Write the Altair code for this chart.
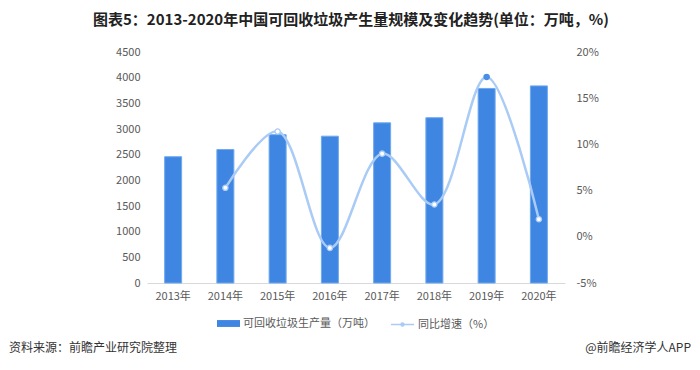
import altair as alt
import pandas as pd

years = ["2013年", "2014年", "2015年", "2016年", "2017年", "2018年", "2019年", "2020年"]
volume = [2460, 2600, 2890, 2860, 3120, 3220, 3790, 3840]
growth = [None, 5.3, 11.4, -1.2, 9.0, 3.5, 17.3, 1.9]
highlight = [False, False, False, False, False, False, True, False]

bar_name = "可回收垃圾生产量（万吨）"
line_name = "同比增速（%）"
title_text = "图表5：2013-2020年中国可回收垃圾产生量规模及变化趋势(单位：万吨，%)"
source_text = "资料来源：前瞻产业研究院整理"
brand_text = "@前瞻经济学人APP"

df = pd.DataFrame({"year": years, "volume": volume, "growth": growth, "hl": highlight})
df["s1"] = bar_name
df["s2"] = line_name

FONT = "Noto Sans CJK SC"
LABEL = "#595959"
BAR = "#3f86e2"
LINE = "#a9cbf5"

W, H = 418, 231

x = alt.X(
    "year:N", sort=years,
    scale=alt.Scale(paddingInner=0, paddingOuter=0),
    axis=alt.Axis(title=None, labelAngle=0, domainColor="#d9d9d9", domainWidth=1,
                  ticks=False, grid=False, labelPadding=7, labelFontSize=11,
                  labelColor=LABEL, labelFont=FONT),
)

bars = alt.Chart(df).mark_bar(size=17, stroke="#6fa9ef", strokeWidth=1).encode(
    x=x,
    y=alt.Y("volume:Q", scale=alt.Scale(domain=[0, 4500], nice=False),
            axis=alt.Axis(values=list(range(0, 4501, 500)), format="d", title=None, domain=False,
                          ticks=False, grid=False, labelPadding=7, labelFontSize=11,
                          labelColor=LABEL, labelFont=FONT)),
    color=alt.Color("s1:N", scale=alt.Scale(domain=[bar_name], range=[BAR]),
                    legend=alt.Legend(title=None, orient="none", legendX=70, legendY=260,
                                      symbolType="M-1,-0.3H1V0.3H-1Z", symbolSize=529,
                                      symbolStrokeWidth=0, labelFont=FONT, labelFontSize=11,
                                      labelColor=LABEL, labelOffset=3, padding=0)),
)

yr = alt.Y("growth:Q", scale=alt.Scale(domain=[-5, 20], nice=False),
           axis=alt.Axis(orient="right", values=[-5, 0, 5, 10, 15, 20],
                         labelExpr="datum.value + '%'", title=None, domain=False,
                         ticks=False, grid=False, labelPadding=11, labelFontSize=11,
                         labelColor=LABEL, labelFont=FONT))

base = alt.Chart(df).transform_filter("isValid(datum.growth)")
line = base.mark_line(interpolate="catmull-rom", strokeWidth=2.5).encode(
    x=x, y=yr,
    stroke=alt.Stroke("s2:N", scale=alt.Scale(domain=[line_name], range=[LINE]),
                      legend=alt.Legend(title=None, orient="none", legendX=243, legendY=260,
                                        symbolType="M-1,0H1M0.13,0A0.13,0.13,0,1,1,-0.13,0A0.13,0.13,0,1,1,0.13,0",
                                        symbolSize=529, symbolStrokeWidth=1.5,
                                        symbolFillColor="#4a8ee6",
                                        labelFont=FONT, labelFontSize=11,
                                        labelColor=LABEL, labelOffset=3, padding=0)),
)
points = base.mark_point(filled=True, shape="circle", size=28, strokeWidth=1.3, opacity=1).encode(
    x=x, y=yr,
    fill=alt.condition("datum.hl", alt.value("#4a8ee6"), alt.value("white")),
    stroke=alt.condition("datum.hl", alt.value("#4a8ee6"), alt.value(LINE)),
)

txt = pd.DataFrame({"t": [title_text]})
title = alt.Chart(txt).mark_text(font=FONT, fontSize=15, fontWeight="bold", color="#222222",
                                 align="center", baseline="middle").encode(
    text="t:N", x=alt.value(204), y=alt.value(-32))

src = alt.Chart(pd.DataFrame({"t": [source_text]})).mark_text(
    font=FONT, fontSize=12, color="#333333", align="left", baseline="middle").encode(
    text="t:N", x=alt.value(-138), y=alt.value(296))
brand = alt.Chart(pd.DataFrame({"t": [brand_text]})).mark_text(
    font=FONT, fontSize=12, color="#333333", align="right", baseline="middle").encode(
    text="t:N", x=alt.value(544), y=alt.value(296))

chart = alt.layer(bars, alt.layer(line, points), title, src, brand).resolve_scale(
    y="independent"
).properties(
    width=W, height=H,
    autosize=alt.AutoSizeParams(type="none"),
    padding={"left": 139, "top": 44, "right": 127, "bottom": 79},
).configure_view(stroke=None)

chart.save("out.html", embed_options={"renderer": "svg", "actions": False})
